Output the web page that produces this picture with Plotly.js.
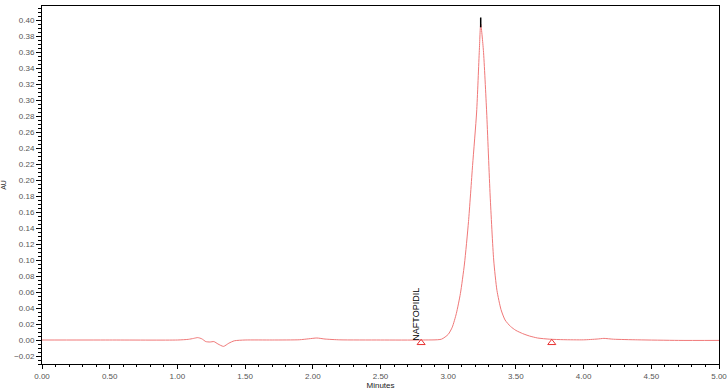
<!DOCTYPE html>
<html>
<head>
<meta charset="utf-8">
<script src="https://cdn.plot.ly/plotly-3.0.1.min.js"></script>
<style>html,body{margin:0;padding:0;background:#fff}#chart{width:728px;height:392px}</style>
</head>
<body>
<div id="chart"></div>
<script>
// Chromatogram (minutes vs AU)
var times = [0, 0.5, 1.0, 1.08, 1.12, 1.15, 1.18, 1.21, 1.24, 1.27, 1.30, 1.34, 1.38, 1.42, 1.50, 1.70, 1.90, 1.97, 2.03, 2.09, 2.20, 2.50, 2.80, 2.95, 3.00, 3.03, 3.06, 3.09, 3.12, 3.15, 3.18, 3.21, 3.23, 3.24, 3.26, 3.284, 3.31, 3.336, 3.36, 3.39, 3.42, 3.46, 3.50, 3.55, 3.60, 3.66, 3.75, 3.85, 4.00, 4.10, 4.15, 4.22, 4.40, 4.70, 5.00];
var au = [0, 0, 0, 0.0008, 0.002, 0.003, 0.0015, -0.002, -0.0025, -0.002, -0.005, -0.008, -0.004, -0.001, 0, 0, 0.0003, 0.0015, 0.0025, 0.0012, 0.0002, 0, 0, 0.001, 0.007, 0.016, 0.033, 0.058, 0.095, 0.148, 0.218, 0.285, 0.362, 0.395, 0.362, 0.285, 0.18, 0.1, 0.062, 0.038, 0.025, 0.017, 0.012, 0.008, 0.005, 0.0025, 0.001, 0.0004, 0.0002, 0.0012, 0.002, 0.001, 0.0002, -0.0005, -0.0005];

// Integration baseline markers (start / end)
var markerTimes = [2.80, 3.765];
var markerAU = [-0.0035, -0.0035];

// Peak apex marker and label
var peakName = ["NAFTOPIDIL"];
var apexTime = [3.24];
var apexAU = [0.397];
var labelTime = [2.76];
var labelAU = [0.0325];

var xTicks = [0, 0.5, 1.0, 1.5, 2.0, 2.5, 3.0, 3.5, 4.0, 4.5, 5.0];
var xTickText = ["0.00", "0.50", "1.00", "1.50", "2.00", "2.50", "3.00", "3.50", "4.00", "4.50", "5.00"];

var red = '#f07878';
var traces = [
  {x: times, y: au, type: 'scatter', mode: 'lines', line: {color: red, width: 1, shape: 'spline', smoothing: 0.6}, hoverinfo: 'skip'},
  {x: markerTimes, y: markerAU, type: 'scatter', mode: 'markers', marker: {symbol: 'triangle-up-open', size: 7, color: '#e83030', line: {width: 1, color: '#e83030'}}},
  {x: apexTime, y: apexAU, type: 'scatter', mode: 'markers', marker: {symbol: 'line-ns', size: 7, line: {width: 1.5, color: '#000'}}}
];

var tickFont = {family: 'Liberation Sans, Arial, sans-serif', size: 8, color: '#555'};
var layout = {
  width: 728, height: 392,
  margin: {l: 42, r: 9, t: 6, b: 28},
  paper_bgcolor: '#fff', plot_bgcolor: '#fff',
  showlegend: false,
  xaxis: {
    range: [0, 5], tickvals: xTicks, ticktext: xTickText,
    showgrid: false, zeroline: false, showline: true, mirror: true, linecolor: '#000', linewidth: 1,
    ticks: 'outside', ticklen: 4, tickcolor: '#000', tickfont: tickFont,
    minor: {dtick: 0.1, ticks: 'outside', ticklen: 2, tickcolor: '#000', showgrid: false},
    title: {text: 'Minutes', font: {family: 'Liberation Sans, Arial, sans-serif', size: 8, color: '#222'}, standoff: 2}
  },
  yaxis: {
    range: [-0.03, 0.4175], dtick: 0.02, tick0: 0, tickformat: '.2f',
    showgrid: false, zeroline: false, showline: true, mirror: true, linecolor: '#000', linewidth: 1,
    ticks: 'outside', ticklen: 5, tickcolor: '#000', tickfont: tickFont,
    minor: {dtick: 0.005, ticks: 'outside', ticklen: 3, tickcolor: '#000', showgrid: false},
    title: {text: 'AU', font: {family: 'Liberation Sans, Arial, sans-serif', size: 7, color: '#333'}, standoff: 6}
  },
  annotations: [{
    x: labelTime[0], y: labelAU[0], xref: 'x', yref: 'y', text: peakName[0], showarrow: false,
    textangle: -90, font: {family: 'Liberation Sans, Arial, sans-serif', size: 9, color: '#000'}
  }]
};
Plotly.newPlot('chart', traces, layout, {displayModeBar: false, staticPlot: true});
</script>
</body>
</html>
